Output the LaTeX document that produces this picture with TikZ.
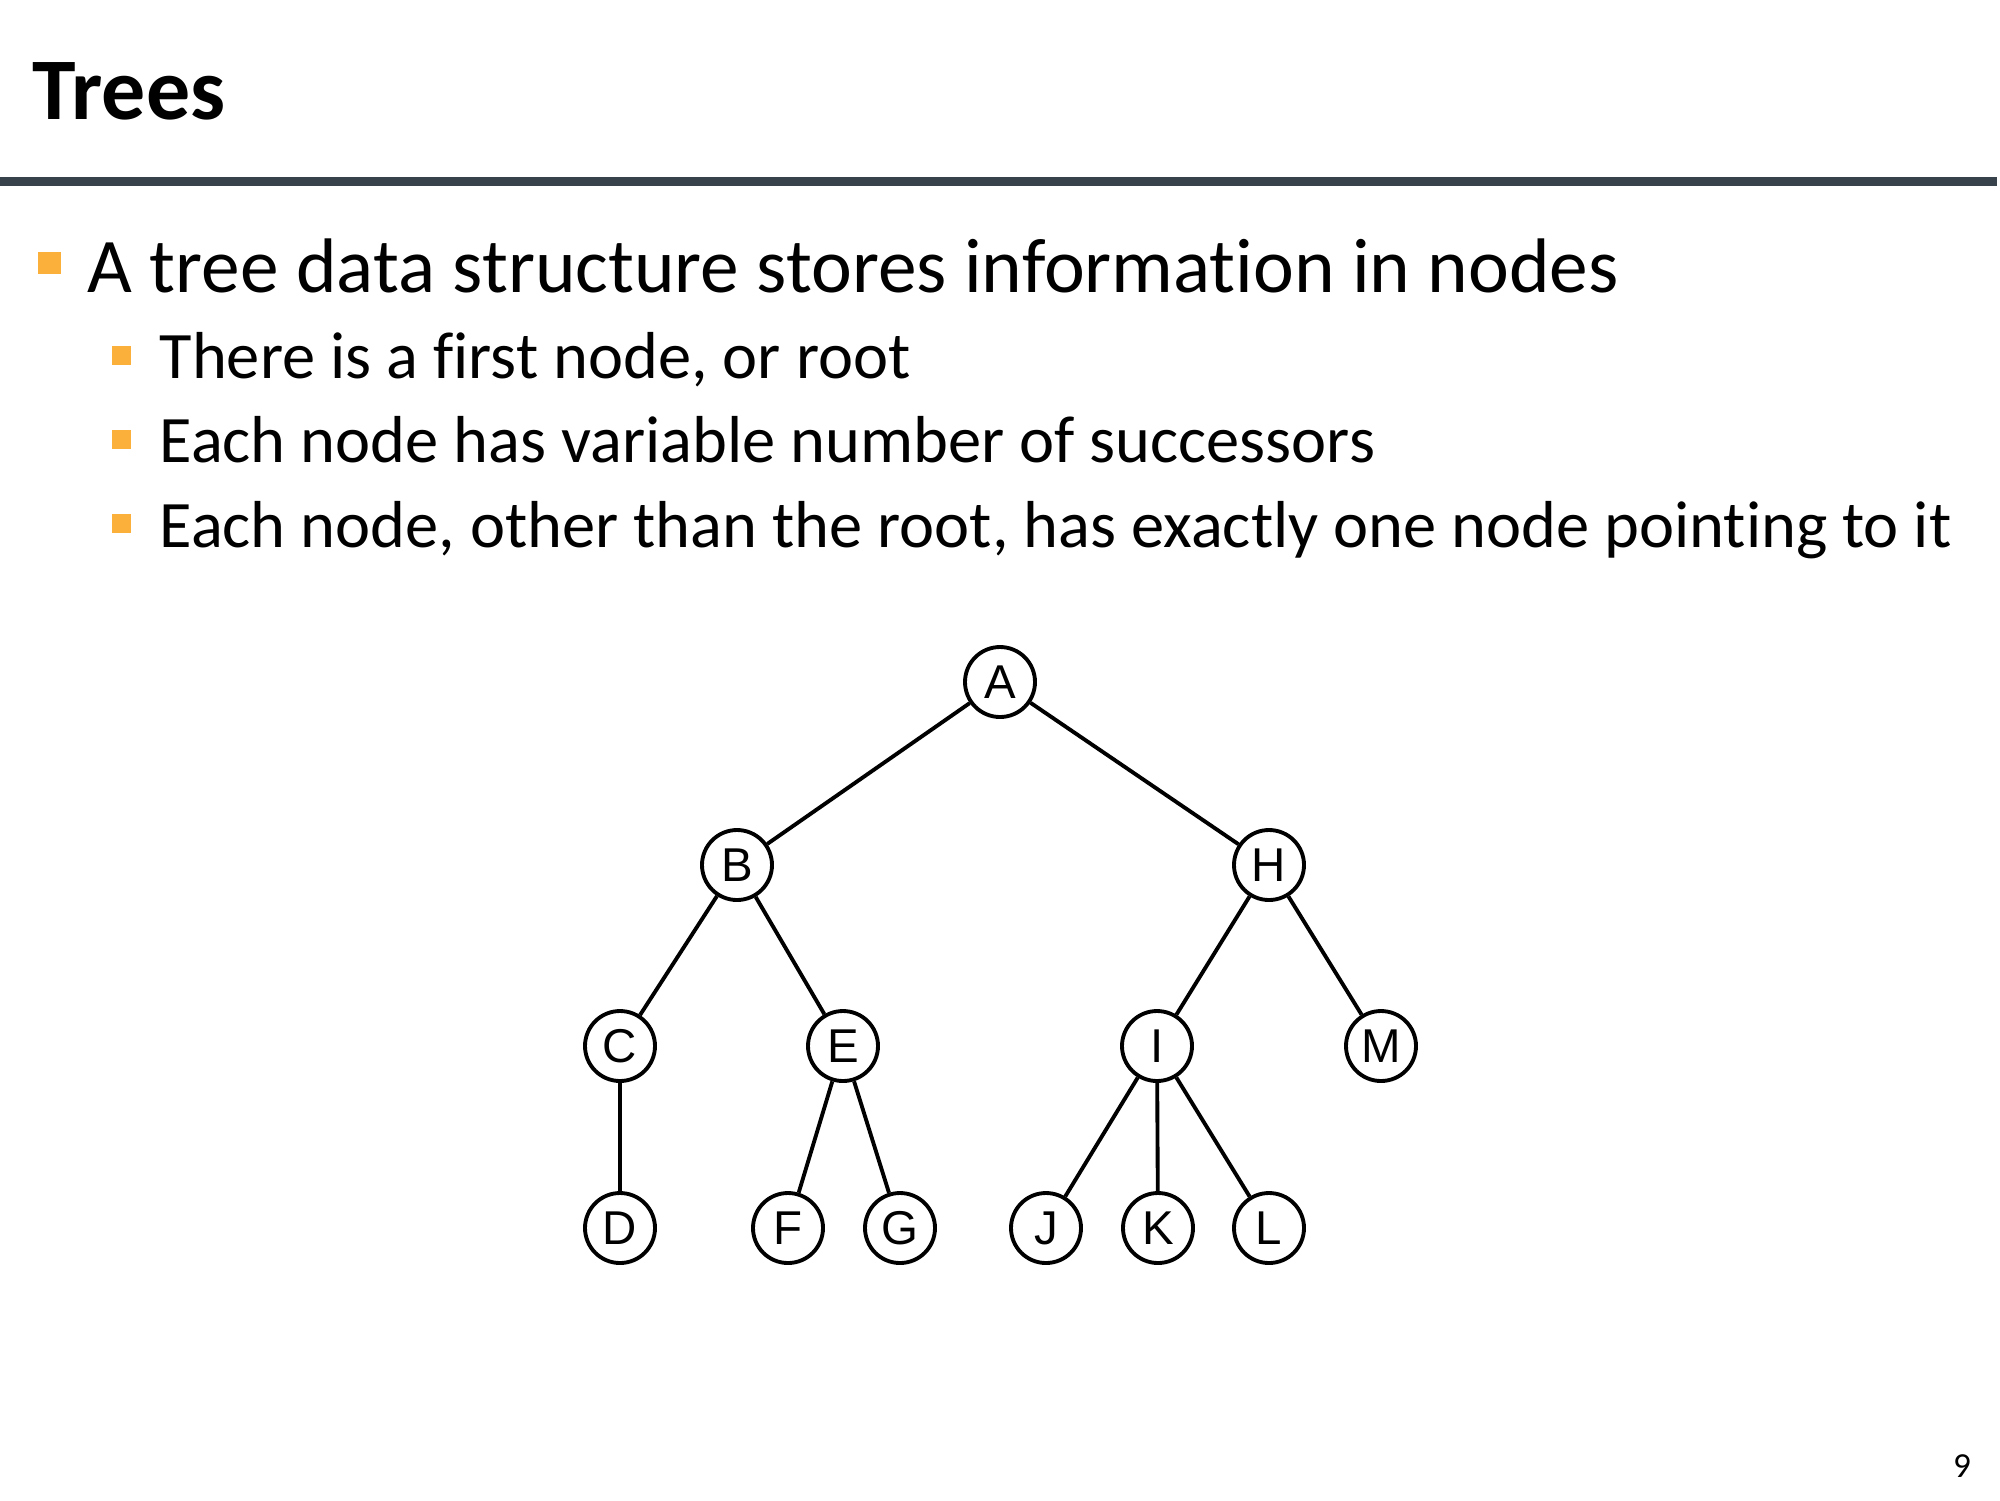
\documentclass[tikz,border=0pt]{standalone}
\usepackage{fontspec}
\setmainfont{Carlito}[Ligatures=NoCommon]
\newfontfamily\treefont{Liberation Sans}
\usepackage{tikz}

\definecolor{barcolor}{RGB}{56,66,74}
\definecolor{bulletcolor}{RGB}{251,176,59}

\begin{document}
\begin{tikzpicture}[
    treenode/.style={circle,draw,line width=1.1pt,minimum size=0.7cm,inner sep=0pt,font=\treefont\fontsize{13.5}{13.5}\selectfont},
    bulletbig/.style={fill=bulletcolor,minimum size=0.22cm,inner sep=0pt},
    bulletsmall/.style={fill=bulletcolor,minimum size=0.19cm,inner sep=0pt},
    maintext/.style={anchor=base west,inner sep=0pt,font=\fontsize{22}{26}\selectfont},
    subtext/.style={anchor=base west,inner sep=0pt,font=\fontsize{18.9}{22}\selectfont}
]
\useasboundingbox (0,0) rectangle (20,-15);

% Title and rule
\node[anchor=base west,inner sep=0pt,font=\bfseries\fontsize{25}{30}\selectfont] (title) at (0.32,-1.19) {Trees};
\draw[barcolor,line width=0.09cm] (0,-1.81) -- (19.97,-1.81);

% Bullets
\node[bulletbig] (b1) at (0.495,-2.63) {};
\node[maintext] (t1) at (0.87,-2.92) {A tree data structure stores information in nodes};
\node[bulletsmall] (b2) at (1.215,-3.55) {};
\node[subtext] (t2) at (1.59,-3.785) {There is a first node, or root};
\node[bulletsmall] (b3) at (1.215,-4.395) {};
\node[subtext] (t3) at (1.59,-4.625) {Each node has variable number of successors};
\node[bulletsmall] (b4) at (1.215,-5.23) {};
\node[subtext] (t4) at (1.59,-5.47) {Each node, other than the root, has exactly one node pointing to it};

% Tree nodes
\node[treenode] (a) at (10.00,-6.82) {A};
\node[treenode] (b) at (7.37,-8.65) {B};
\node[treenode] (h) at (12.69,-8.65) {H};
\node[treenode] (c) at (6.20,-10.46) {C};
\node[treenode] (e) at (8.43,-10.46) {E};
\node[treenode] (i) at (11.57,-10.46) {I};
\node[treenode] (m) at (13.81,-10.46) {M};
\node[treenode] (d) at (6.20,-12.28) {D};
\node[treenode] (f) at (7.88,-12.28) {F};
\node[treenode] (g) at (9.00,-12.28) {G};
\node[treenode] (j) at (10.46,-12.28) {J};
\node[treenode] (k) at (11.58,-12.28) {K};
\node[treenode] (l) at (12.69,-12.28) {L};

% Edges
\draw[line width=1.1pt] (a) -- (b);
\draw[line width=1.1pt] (a) -- (h);
\draw[line width=1.1pt] (b) -- (c);
\draw[line width=1.1pt] (b) -- (e);
\draw[line width=1.1pt] (c) -- (d);
\draw[line width=1.1pt] (e) -- (f);
\draw[line width=1.1pt] (e) -- (g);
\draw[line width=1.1pt] (h) -- (i);
\draw[line width=1.1pt] (h) -- (m);
\draw[line width=1.1pt] (i) -- (j);
\draw[line width=1.1pt] (i) -- (k);
\draw[line width=1.1pt] (i) -- (l);

% Page number
\node[font=\fontsize{10}{12}\selectfont] (pagenum) at (19.62,-14.66) {9};

\end{tikzpicture}
\end{document}
